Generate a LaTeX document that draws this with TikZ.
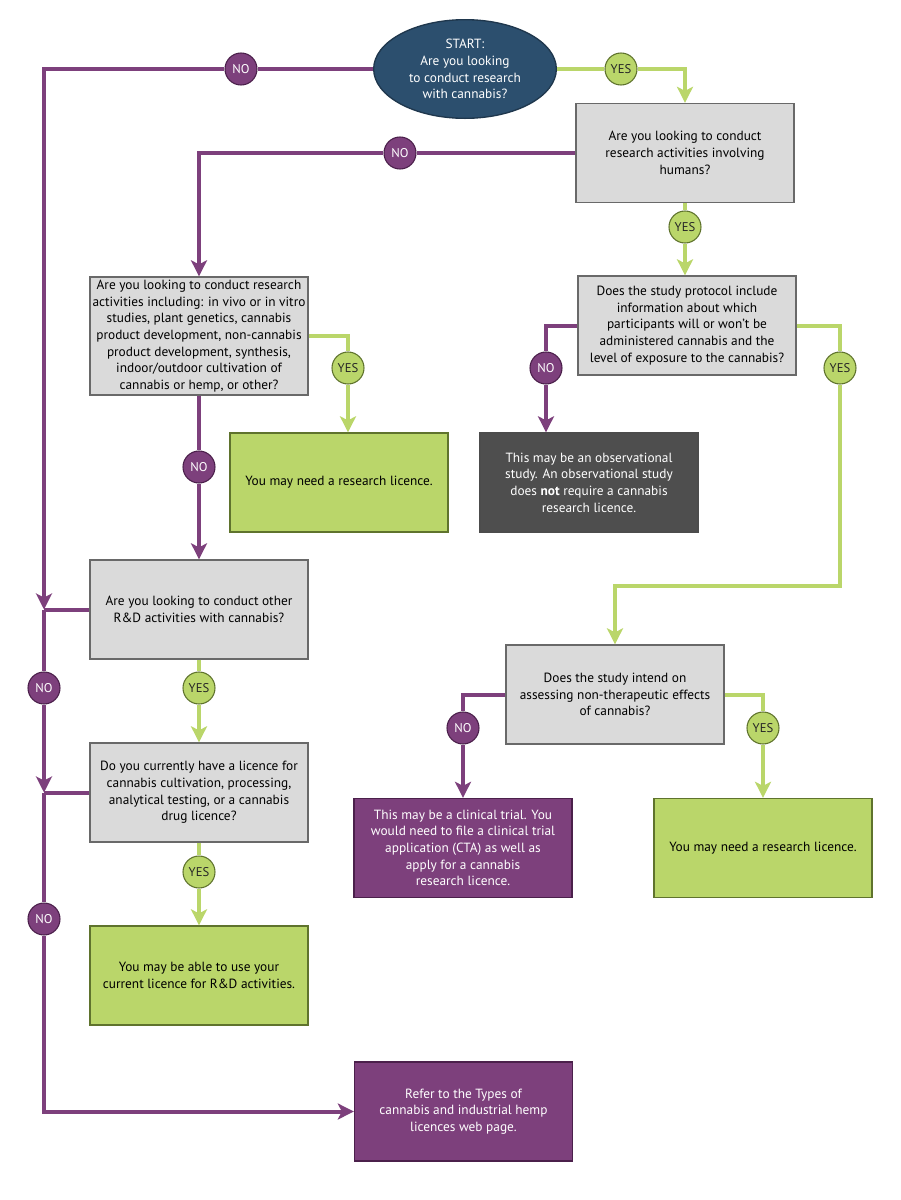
\documentclass[tikz,border=0pt]{standalone}
\usepackage{fontspec}
\setmainfont{PT Sans}
\usepackage{tikz}
\usetikzlibrary{shapes}
\usetikzlibrary{positioning}
\usetikzlibrary{arrows.meta}
\usepackage{xcolor}

\definecolor{startblue}{RGB}{44,79,110}
\definecolor{nopurple}{RGB}{125,64,124}
\definecolor{nodark}{RGB}{75,32,75}
\definecolor{yesgreen}{RGB}{186,214,106}
\definecolor{yesdark}{RGB}{95,115,45}
\definecolor{boxgrey}{RGB}{218,218,218}
\definecolor{boxedge}{RGB}{105,105,105}
\definecolor{obsgrey}{RGB}{78,78,78}

\tikzset{
	qbox/.style={draw=boxedge, line width=1pt, fill=boxgrey, minimum width=163.5pt, minimum height=74.25pt, align=center, inner sep=2pt},
	yesbox/.style={qbox, draw=yesdark, fill=yesgreen},
	nobox/.style={qbox, draw=nodark, fill=nopurple, text=white},
	obsbox/.style={qbox, draw=black!70, fill=obsgrey, text=white},
	startnode/.style={ellipse, draw=startblue!70!black, line width=1pt, fill=startblue, text=white, minimum width=137pt, minimum height=74pt, inner sep=0pt, align=center},
	nocirc/.style={circle, draw=nodark, line width=0.8pt, fill=nopurple, text=white, minimum size=24pt, inner sep=0pt, font=\fontsize{9.5}{11}\selectfont},
	yescirc/.style={circle, draw=yesdark, line width=0.8pt, fill=yesgreen, text=black!85, minimum size=24pt, inner sep=0pt, font=\fontsize{9.5}{11}\selectfont},
	noline/.style={draw=nopurple, line width=3pt},
	yesline/.style={draw=yesgreen, line width=3pt},
	tip/.style={-{Stealth[length=12pt, width=12pt, inset=3pt]}}
}

\begin{document}
\begin{tikzpicture}[x=0.75pt, y=-0.75pt, font=\fontsize{10}{12.5}\selectfont]
	\useasboundingbox (0,0) rectangle (900,1200);

	% boxes
	\node[startnode] (start) at (465,69) {START:\\Are you looking\\to conduct research\\with cannabis?};
	\node[qbox] (humans) at (685,153) {Are you looking to conduct\\research activities involving\\humans?};
	\node[qbox, minimum height=88.5pt] (activities) at (199,336) {Are you looking to conduct research\\activities including: in vivo or in vitro\\studies, plant genetics, cannabis\\product development, non-cannabis\\product development, synthesis,\\indoor/outdoor cultivation of\\cannabis or hemp, or other?};
	\node[yesbox] (resA) at (339,482.5) {You may need a research licence.};
	\node[qbox] (protocol) at (687,325.5) {Does the study protocol include\\information about which\\participants will or won't be\\administered cannabis and the\\level of exposure to the cannabis?};
	\node[obsbox] (observ) at (589,482.5) {This may be an observational\\study. An observational study\\does \textbf{not} require a cannabis\\research licence.};
	\node[qbox] (otherrd) at (199,609.5) {Are you looking to conduct other\\R\&D activities with cannabis?};
	\node[qbox] (current) at (199,792.5) {Do you currently have a licence for\\cannabis cultivation, processing,\\analytical testing, or a cannabis\\drug licence?};
	\node[yesbox] (usecur) at (199,975.5) {You may be able to use your\\current licence for R\&D activities.};
	\node[qbox] (nonther) at (615,694.5) {Does the study intend on\\assessing non-therapeutic effects\\of cannabis?};
	\node[nobox] (clinical) at (463,848) {This may be a clinical trial. You\\would need to file a clinical trial\\application (CTA) as well as\\apply for a cannabis\\research licence.};
	\node[yesbox] (resB) at (763,848) {You may need a research licence.};
	\node[nobox] (refer) at (463.5,1111.5) {Refer to the Types of\\cannabis and industrial hemp\\licences web page.};

	% yes / no labels
	\node[nocirc] (n1) at (241,69) {NO};
	\node[yescirc] (y1) at (621,69) {YES};
	\node[nocirc] (n2) at (400,153) {NO};
	\node[yescirc] (y2) at (685,227) {YES};
	\node[yescirc] (y3) at (348,368) {YES};
	\node[nocirc] (n3) at (199,467) {NO};
	\node[nocirc] (n4) at (546,368) {NO};
	\node[yescirc] (y4) at (840,368) {YES};
	\node[nocirc] (n5) at (44,688) {NO};
	\node[yescirc] (y5) at (199,688) {YES};
	\node[nocirc] (n6) at (44,919) {NO};
	\node[yescirc] (y6) at (199,872) {YES};
	\node[nocirc] (n7) at (463,728) {NO};
	\node[yescirc] (y7) at (763,728) {YES};

	\coordinate (trunk) at (44,69);
	\coordinate (bend) at (840,586);

	% no connectors
	\draw[noline, tip] (start.west) -- (n1) -- (trunk) -- (trunk |- otherrd.west);
	\draw[noline] (otherrd.west) -- (trunk |- otherrd.west);
	\draw[noline, tip] (trunk |- otherrd.west) -- (n5) -- (trunk |- current.west);
	\draw[noline] (current.west) -- (trunk |- current.west);
	\draw[noline, tip] (trunk |- current.west) -- (n6) -- (trunk |- refer.west) -- (refer.west);
	\draw[noline, tip] (humans.west) -- (n2) -- (activities.north |- humans.west) -- (activities.north);
	\draw[noline, tip] (activities.south) -- (n3) -- (otherrd.north);
	\draw[noline, tip] (protocol.west) -- (n4 |- protocol.west) -- (n4) -- (n4 |- observ.north);
	\draw[noline, tip] (nonther.west) -- (n7 |- nonther.west) -- (n7) -- (clinical.north);

	% yes connectors
	\draw[yesline, tip] (start.east) -- (y1) -- (humans.north |- start.east) -- (humans.north);
	\draw[yesline, tip] (humans.south) -- (y2) -- (y2 |- protocol.north);
	\draw[yesline, tip] (activities.east) -- (y3 |- activities.east) -- (y3) -- (y3 |- resA.north);
	\draw[yesline, tip] (protocol.east) -- (y4 |- protocol.east) -- (y4) -- (bend) -- (nonther.north |- bend) -- (nonther.north);
	\draw[yesline, tip] (otherrd.south) -- (y5) -- (current.north);
	\draw[yesline, tip] (current.south) -- (y6) -- (usecur.north);
	\draw[yesline, tip] (nonther.east) -- (y7 |- nonther.east) -- (y7) -- (resB.north);
\end{tikzpicture}
\end{document}
